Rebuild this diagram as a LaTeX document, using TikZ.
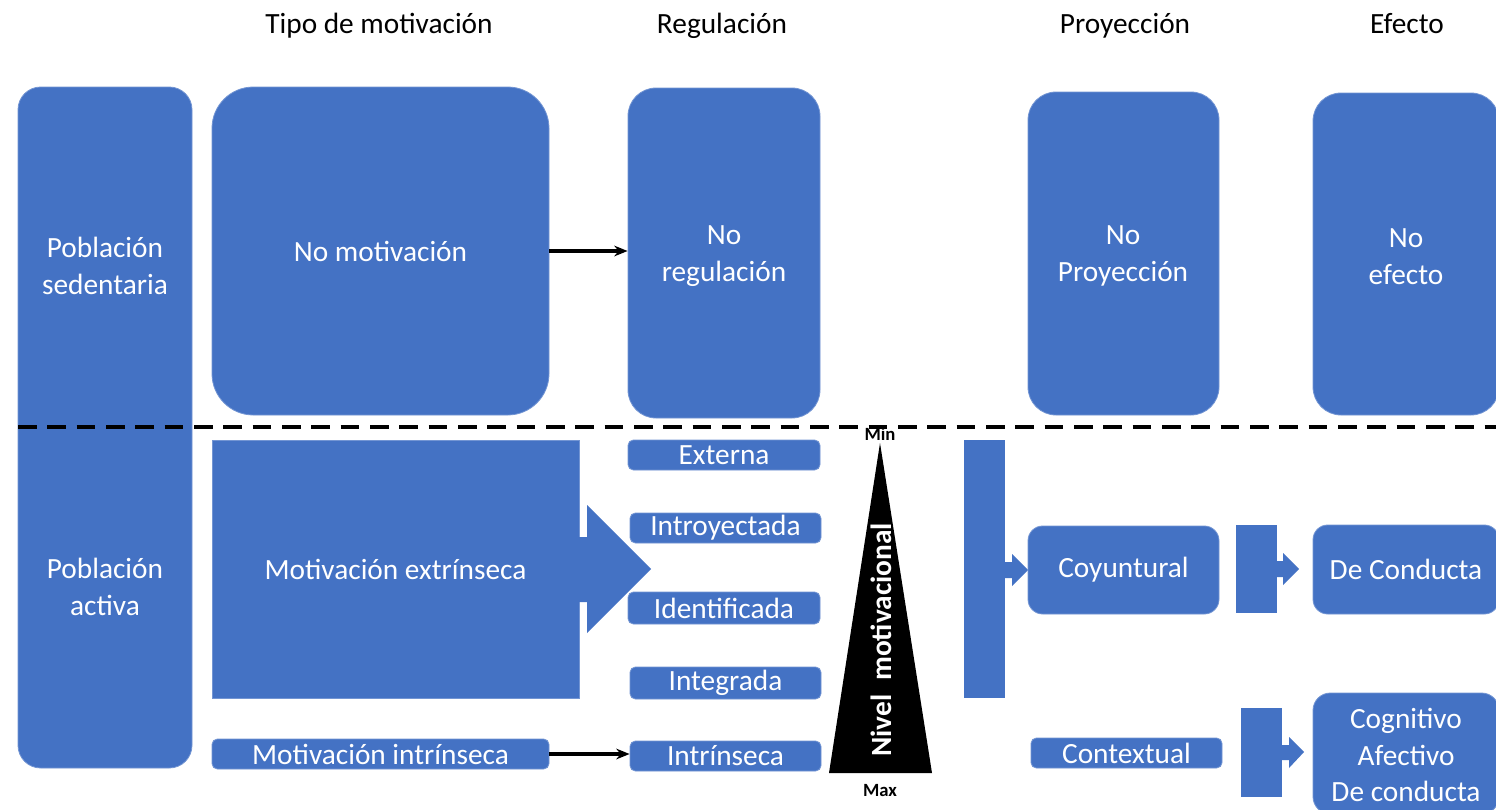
\documentclass[tikz,border=0pt]{standalone}
\usepackage{fontspec}
\setmainfont{Carlito}
\usetikzlibrary{arrows.meta}
\definecolor{ofblue}{HTML}{4472C4}
\tikzset{
  blk/.style={fill=ofblue, draw=ofblue!75!white, line width=0.6pt, text=white, inner sep=0pt, align=center,
    font=\fontsize{22}{27.5}\selectfont},
  lbl/.style={text=white, inner sep=0pt, align=center, font=\fontsize{22}{27.5}\selectfont},
  hdr/.style={text=black, inner sep=0pt, anchor=base, font=\fontsize{22}{27.5}\selectfont},
  minmax/.style={text=black, inner sep=0pt, font=\fontsize{14}{16}\selectfont\bfseries},
  conn/.style={line width=2.3pt, -{Stealth[length=10pt,width=8pt]}},
  barrow/.style={fill=ofblue, draw=none},
  divider/.style={line width=2.7pt, dash pattern=on 14pt off 8pt},
}
\newcommand{\bnode}[7][]{\node[blk,#1,minimum width={(#5-#3)*0.75pt},minimum height={(#6-#4)*0.75pt}] (#2) at ({(#3+#5)/2},{(#4+#6)/2}) {#7};}
\begin{document}
\begin{tikzpicture}[x=0.75pt,y=-0.75pt]
\useasboundingbox (0,0) rectangle (1496,810);
\fill[white] (0,0) rectangle (1496,810);

% headers
\node[hdr] (h1) at (379,33) {Tipo de motivación};
\node[hdr] (h2) at (722,33) {Regulación};
\node[hdr] (h3) at (1125,33) {Proyección};
\node[hdr] (h4) at (1407,33) {Efecto};

% population column
\bnode[rounded corners=17pt]{pob}{18}{87}{192}{768}{}
\node[lbl] (tsed) at (105,266) {Población\\sedentaria};
\node[lbl] (tact) at (105,587) {Población\\activa};

% upper row
\bnode[rounded corners=31pt]{nomot}{212}{87}{549}{415}{No motivación}
\bnode[rounded corners=21pt]{noreg}{628}{88}{820}{418}{}
\node[lbl] (tnoreg) at (724,256) {No\\regulación};
\bnode[rounded corners=21pt]{noproy}{1028}{92}{1219}{415}{}
\node[lbl] (tnoproy) at (1123,256) {No\\Proyección};
\bnode[rounded corners=21pt]{noef}{1313}{93}{1499}{415}{}
\node[lbl] (tnoef) at (1406,257) {No\\efecto};

% divider
\draw[divider] (18,427) coordinate (dl) -- (1496,427) coordinate (dr);

% extrinsic motivation
\bnode{motext}{212}{440}{579}{698}{Motivación extrínseca}
\fill[barrow] (577,537) -- (587,537) -- (587,505) -- (651,569) -- (587,633) -- (587,602) -- (577,602) -- cycle;

% regulation boxes
\bnode[rounded corners=4pt]{ext}{628}{440}{820}{470}{Externa}
\bnode[rounded corners=4pt]{intro}{630}{513}{821}{543}{Introyectada}
\bnode[rounded corners=4pt]{ident}{628}{592}{820}{624}{Identificada}
\bnode[rounded corners=4pt]{integ}{630}{667}{821}{699}{Integrada}
\bnode[rounded corners=4pt]{intr}{630}{741}{821}{771}{Intrínseca}
\bnode[rounded corners=4pt]{motint}{212}{739}{549}{769}{Motivación intrínseca}

% connectors
\draw[conn] (nomot.east) -- (nomot.east -| noreg.west);
\draw[conn] (motint.east) -- (motint.east -| intr.west);

% triangle
\fill[black] (880,443) -- (932,773) -- (829,773) -- cycle;
\node[minmax] (min) at (880,434) {Min};
\node[minmax] (max) at (880,791) {Max};
\node[text=white, inner sep=0pt, rotate=90, font=\fontsize{22}{26}\selectfont\bfseries] (nivel) at (881,640) {Nivel\hspace{0.25em} motivacional};

% projection
\fill[barrow] (964,440) rectangle (1005,698);
\fill[barrow] (1003,562) -- (1012,562) -- (1012,554) -- (1028,570) -- (1012,586) -- (1012,578) -- (1003,578) -- cycle;
\bnode[rounded corners=11pt]{coy}{1028}{526}{1219}{614}{Coyuntural}
\bnode[rounded corners=4pt]{ctx}{1031}{738}{1222}{768}{Contextual}

% effect
\fill[barrow] (1236,525) rectangle (1277,613);
\fill[barrow] (1275,561) -- (1283,561) -- (1283,553) -- (1299,569) -- (1283,585) -- (1283,577) -- (1275,577) -- cycle;
\bnode[rounded corners=11pt]{decond}{1313}{525}{1499}{614}{De Conducta}
\fill[barrow] (1241,708) rectangle (1282,797);
\fill[barrow] (1280,745) -- (1289,745) -- (1289,737) -- (1304,752) -- (1289,768) -- (1289,760) -- (1280,760) -- cycle;
\bnode[rounded corners=13pt]{cog}{1313}{693}{1499}{814}{}
\node[lbl] (tcog) at (1406,755) {Cognitivo\\Afectivo\\De conducta};
\end{tikzpicture}
\end{document}
